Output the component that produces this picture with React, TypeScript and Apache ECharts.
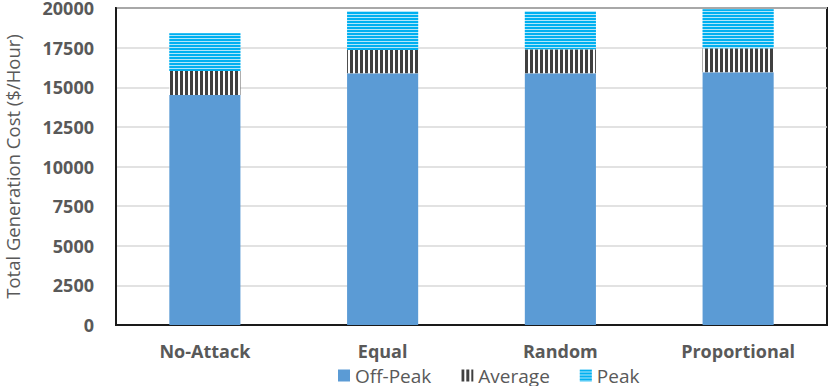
import React, { useEffect, useRef } from "react";
import * as echarts from "echarts";

const categories = ["No-Attack", "Equal", "Random", "Proportional"];
const offPeak = [14510, 15880, 15880, 15940];
const average = [1515, 1470, 1510, 1515];
const peak = [2380, 2460, 2420, 2460];
const yTicks = { min: 0, max: 20000, interval: 2500 };
const seriesNames = ["Off-Peak", "Average", "Peak"];

const FONT = "'Open Sans', 'Noto Sans', sans-serif";
const GRAY = "#595959";

export default function App() {
  const ref = useRef<HTMLDivElement>(null);
  useEffect(() => {
    if (!ref.current) return;
    const chart = echarts.init(ref.current, undefined, { renderer: "svg" });
    chart.setOption({
      animation: false,
      textStyle: { fontFamily: FONT },
      grid: {
        left: 116,
        right: 3,
        top: 8,
        bottom: 61,
        show: true,
        borderColor: "#1a1a1a",
        borderWidth: 2,
        containLabel: false,
        outerBoundsMode: "none",
      },
      legend: {
        left: 338,
        top: 366,
        padding: 0,
        icon: "rect",
        itemWidth: 12,
        itemHeight: 12,
        itemGap: 30,
        textStyle: { fontFamily: FONT, fontSize: 19, lineHeight: 18, color: GRAY },
        data: seriesNames,
      },
      xAxis: {
        type: "category",
        data: categories,
        axisLine: { show: true, lineStyle: { color: "#1a1a1a", width: 2 } },
        axisTick: { show: false },
        axisLabel: { fontFamily: FONT, fontSize: 18, fontWeight: "bold", color: GRAY, margin: 17 },
      },
      yAxis: {
        type: "value",
        min: yTicks.min,
        max: yTicks.max,
        interval: yTicks.interval,
        name: "Total Generation Cost ($/Hour)",
        nameLocation: "middle",
        nameGap: 94,
        nameTextStyle: { fontFamily: FONT, fontSize: 18.5, color: GRAY },
        axisLine: { show: true, lineStyle: { color: "#1a1a1a", width: 2 } },
        axisTick: { show: false },
        splitLine: { lineStyle: { color: "#d9d9d9", width: 1.5 } },
        axisLabel: {
          fontFamily: FONT,
          fontSize: 18,
          lineHeight: 16,
          fontWeight: "bold",
          color: GRAY,
          margin: 22,
          formatter: (v: number) => String(v),
        },
      },
      series: [
        {
          name: seriesNames[0],
          type: "bar",
          stack: "total",
          barWidth: "40%",
          data: offPeak,
          itemStyle: { color: "#5b9bd5" },
        },
        {
          name: seriesNames[1],
          type: "bar",
          stack: "total",
          data: average,
          itemStyle: {
            color: "#ffffff",
            decal: {
              symbol: "rect",
              symbolSize: 1,
              color: "#404040",
              dashArrayX: [3, 2],
              dashArrayY: [10, 0],
              rotation: 0,
            },
          },
        },
        {
          name: seriesNames[2],
          type: "bar",
          stack: "total",
          data: peak,
          itemStyle: {
            color: "#b0e6fa",
            decal: {
              symbol: "rect",
              symbolSize: 1,
              color: "#00b0f0",
              dashArrayX: [10, 0],
              dashArrayY: [2, 1],
              rotation: 0,
            },
          },
        },
      ],
    });
    return () => chart.dispose();
  }, []);
  return <div ref={ref} style={{ width: 830, height: 386, position: "absolute", left: 0, top: 0 }} />;
}
